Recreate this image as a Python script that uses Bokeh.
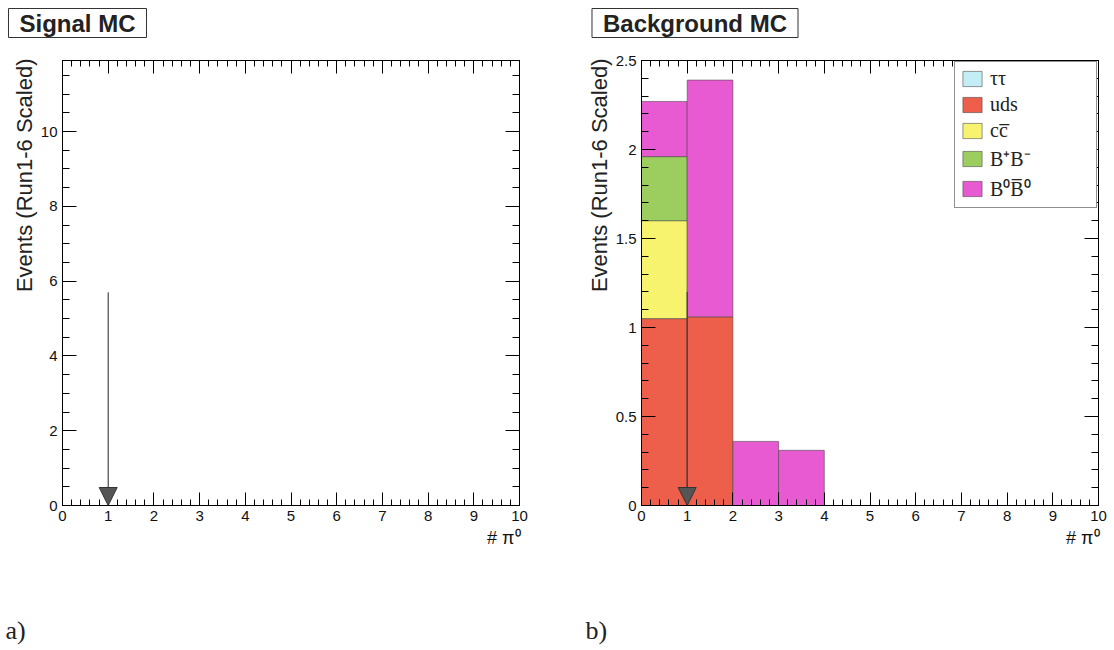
import numpy as np
from bokeh.plotting import figure
from bokeh.models import (FixedTicker, LinearAxis, Range1d, Label, Arrow, NormalHead,
                          CustomJSTickFormatter, Legend, LegendItem, Title)
from bokeh.layouts import row, column
from bokeh.embed import file_html
from bokeh.resources import INLINE

# ---------------- data ----------------
bin_edges = [0, 1, 2, 3, 4, 5, 6, 7, 8, 9, 10]
x_tick_labels = ["0", "1", "2", "3", "4", "5", "6", "7", "8", "9", "10"]

# Signal MC (empty histogram)
signal_counts = [0, 0, 0, 0, 0, 0, 0, 0, 0, 0]
signal_y_ticks = [0, 2, 4, 6, 8, 10]
signal_y_max = 11.9

# Background MC, stacked components (bottom -> top)
bkg_names = ["\u03c4\u03c4", "uds", "cc\u0305", "B\u207aB\u207b", "B\u2070B\u0305\u2070"]
tautau = [0, 0, 0, 0, 0, 0, 0, 0, 0, 0]
uds = [1.05, 1.06, 0, 0, 0, 0, 0, 0, 0, 0]
ccbar = [0.55, 0, 0, 0, 0, 0, 0, 0, 0, 0]
bpbm = [0.36, 0, 0, 0, 0, 0, 0, 0, 0, 0]
b0b0bar = [0.31, 1.33, 0.36, 0.31, 0, 0, 0, 0, 0, 0]
bkg_y_ticks = [0, 0.5, 1, 1.5, 2, 2.5]
bkg_y_max = 2.5

# cut position (arrow)
cut_value = 1
signal_arrow_top = 5.7
bkg_arrow_top = 1.2

bkg_colors = ["#C3EEF5", "#EE5F4B", "#F7F36E", "#9BCD5F", "#E85AD2"]

FONT = "Liberation Sans"
Y_TITLE = "Events (Run1-6 Scaled)"
X_TITLE = "# \u03c0\u2070"


def text_strip(height):
    f = figure(width=1114, height=height, x_range=Range1d(0, 1114), y_range=Range1d(0, height),
               x_axis_type=None, y_axis_type=None, min_border=0,
               output_backend="svg", toolbar_location=None)
    f.grid.visible = False
    f.outline_line_color = None
    f.background_fill_color = "white"
    f.border_fill_color = "white"
    return f


def style_panel(p, yticks, yminor):
    xt = FixedTicker(ticks=bin_edges, minor_ticks=list(np.arange(0, 10.001, 0.2)))
    yt = FixedTicker(ticks=yticks, minor_ticks=yminor)
    p.xgrid.visible = False
    p.ygrid.visible = False
    p.outline_line_color = "black"
    p.outline_line_width = 1
    p.background_fill_color = "white"
    p.border_fill_color = "white"
    p.xaxis[0].ticker = xt
    p.yaxis[0].ticker = yt
    p.xaxis[0].major_label_overrides = {b: s for b, s in zip(bin_edges, x_tick_labels)}
    p.yaxis[0].formatter = CustomJSTickFormatter(code="return String(tick)")
    for ax, big in ((p.xaxis[0], 13), (p.yaxis[0], 14)):
        ax.major_tick_in = big
        ax.major_tick_out = 0
        ax.minor_tick_in = big // 2
        ax.minor_tick_out = 0
        ax.axis_line_color = "black"
        ax.major_tick_line_color = "black"
        ax.minor_tick_line_color = "black"
        ax.major_label_text_font = FONT
        ax.major_label_text_font_size = "15px"
        ax.major_label_text_color = "#111111"
        ax.major_label_standoff = 5
    # opposite-side ticks
    for loc, tk, big in (("above", xt, 13), ("right", yt, 14)):
        ax = LinearAxis(ticker=tk, formatter=CustomJSTickFormatter(code="return ''"),
                        major_tick_in=big, major_tick_out=0, minor_tick_in=big // 2,
                        minor_tick_out=0, major_label_standoff=0,
                        axis_line_color="black", major_tick_line_color="black",
                        minor_tick_line_color="black")
        p.add_layout(ax, loc)
    # axis titles (ROOT style: aligned to the axis end)
    p.add_layout(Title(text=Y_TITLE, align="right", vertical_align="bottom", offset=-2,
                       standoff=2, text_font=FONT, text_font_size="22px",
                       text_font_style="normal", text_color="#222222"), "left")
    p.add_layout(Title(text=X_TITLE, align="right", vertical_align="top", offset=-1,
                       standoff=9, text_font=FONT, text_font_size="18px",
                       text_font_style="normal", text_color="#111111"), "below")


# ---------------- panel titles ----------------
top = text_strip(40)
for txt, cx, pad in (("Signal MC", 77, 11), ("Background MC", 694.5, 11)):
    top.add_layout(Label(x=cx, y=17.5, text=txt, text_font=FONT, text_font_size="24px",
                         text_font_style="bold", text_color="#222222",
                         text_align="center", text_baseline="middle",
                         border_line_color="#333333", border_line_width=1,
                         background_fill_color="white",
                         padding=dict(left=pad, right=pad, top=1, bottom=1)))

# ---------------- left panel: Signal MC ----------------
p1 = figure(width=580, height=560, x_range=Range1d(0, 10), y_range=Range1d(0, signal_y_max),
            output_backend="svg", toolbar_location=None,
            min_border_left=62, min_border_right=61, min_border_top=20, min_border_bottom=95)
style_panel(p1, signal_y_ticks, list(np.arange(0, signal_y_max, 0.5)))
sig = np.array(signal_counts, dtype=float)
m = sig > 0
p1.quad(left=np.array(bin_edges[:-1])[m], right=np.array(bin_edges[1:])[m],
        bottom=0, top=sig[m], fill_color="#EE5F4B", line_color="#444444")
p1.add_layout(Arrow(x_start=cut_value, y_start=signal_arrow_top, x_end=cut_value, y_end=0,
                    line_color="#222222", line_width=1,
                    end=NormalHead(size=18, fill_color="#555555", line_color="#333333",
                                   line_width=1)))

# ---------------- right panel: Background MC ----------------
p2 = figure(width=534, height=560, x_range=Range1d(0, 10), y_range=Range1d(0, bkg_y_max),
            output_backend="svg", toolbar_location=None,
            min_border_left=61, min_border_right=16, min_border_top=20, min_border_bottom=95)
style_panel(p2, bkg_y_ticks, list(np.arange(0, bkg_y_max + 0.001, 0.1)))

left = np.array(bin_edges[:-1], dtype=float)
right = np.array(bin_edges[1:], dtype=float)
base = np.zeros(len(left))
renderers = []
for i, (comp, col) in enumerate(zip([tautau, uds, ccbar, bpbm, b0b0bar], bkg_colors)):
    v = np.array(comp, dtype=float)
    # keep all bins for an empty component so that its legend swatch is still drawn
    m = (v > 0) if v.any() else np.ones(len(v), dtype=bool)
    r = p2.quad(left=left[m], right=right[m], bottom=base[m], top=(base + v)[m],
                fill_color=col, line_color="#444444", line_alpha=0.55, line_width=1)
    renderers.append(r)
    base = base + v

p2.add_layout(Arrow(x_start=cut_value, y_start=bkg_arrow_top, x_end=cut_value, y_end=0,
                    line_color="#333333", line_width=1,
                    end=NormalHead(size=18, fill_color="#555555", line_color="#333333",
                                   line_width=1)))

legend = Legend(items=[LegendItem(label=n, renderers=[r]) for n, r in zip(bkg_names, renderers)],
                location="top_right", label_text_font="Liberation Serif",
                label_text_font_size="20px", label_text_color="#222222",
                glyph_width=24, glyph_height=19, label_height=19, label_width=101,
                spacing=3, padding=5, margin=1, label_standoff=6,
                border_line_color="#222222", border_line_width=1,
                background_fill_color="white", background_fill_alpha=1.0)
p2.add_layout(legend)

# ---------------- sub-figure letters ----------------
bottom = text_strip(50)
for txt, lx in (("a)", 5), ("b)", 585)):
    bottom.add_layout(Label(x=lx, y=20, text=txt, text_font="Liberation Serif",
                            text_font_size="26px", text_color="#222222",
                            text_align="left", text_baseline="middle"))

layout = column(top, row(p1, p2), bottom)
open("out.html", "w").write(file_html(layout, INLINE))
